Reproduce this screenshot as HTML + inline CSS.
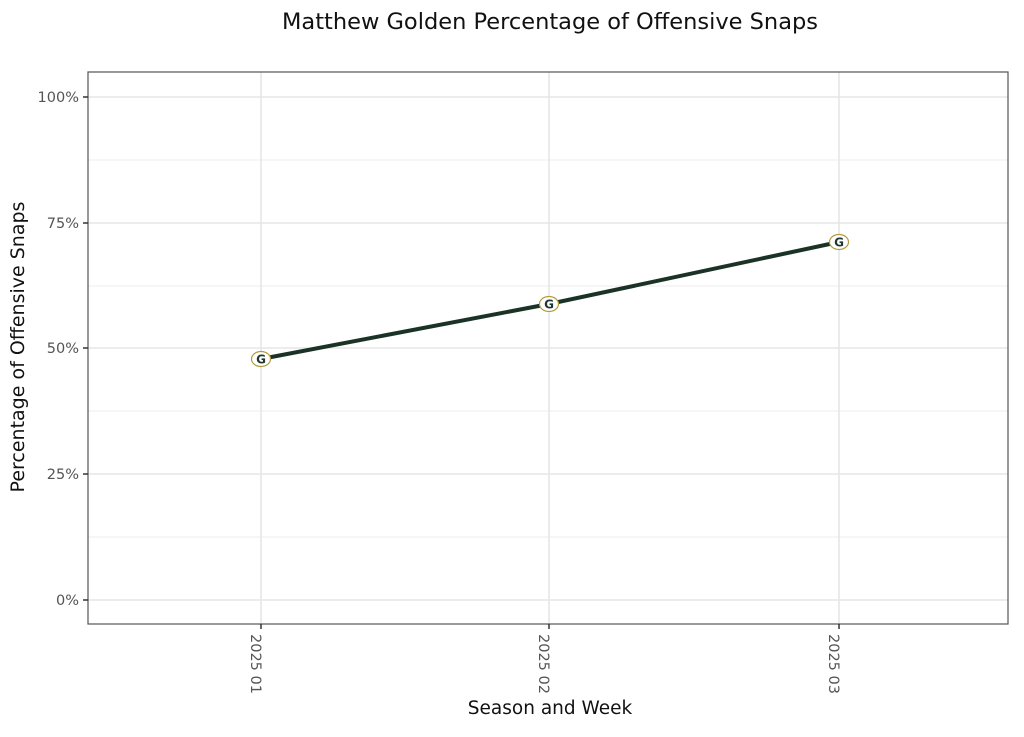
<!DOCTYPE html>
<html><head><style>body{margin:0;background:#fff}</style></head><body>
<svg width="1024" height="732" xmlns="http://www.w3.org/2000/svg" font-family="'DejaVu Sans','Liberation Sans',sans-serif">
<rect width="1024" height="732" fill="#fff"/>
<text x="550" y="29" font-size="22.5" text-anchor="middle" fill="#111">Matthew Golden Percentage of Offensive Snaps</text>
<g stroke="#ececec" stroke-width="1">
<line x1="88" x2="1008" y1="537" y2="537"/><line x1="88" x2="1008" y1="411" y2="411"/><line x1="88" x2="1008" y1="286" y2="286"/><line x1="88" x2="1008" y1="160" y2="160"/>
</g>
<g stroke="#e6e6e6" stroke-width="1.6">
<line x1="88" x2="1008" y1="600" y2="600"/><line x1="88" x2="1008" y1="474" y2="474"/><line x1="88" x2="1008" y1="348" y2="348"/><line x1="88" x2="1008" y1="223" y2="223"/><line x1="88" x2="1008" y1="97" y2="97"/>
<line x1="261" x2="261" y1="72" y2="624"/><line x1="549" x2="549" y1="72" y2="624"/><line x1="839" x2="839" y1="72" y2="624"/>
</g>
<rect x="88" y="72" width="920" height="552" fill="none" stroke="#555" stroke-width="1.2"/>
<g stroke="#333" stroke-width="1.5">
<line x1="83" x2="88" y1="600" y2="600"/><line x1="83" x2="88" y1="474" y2="474"/><line x1="83" x2="88" y1="348" y2="348"/><line x1="83" x2="88" y1="223" y2="223"/><line x1="83" x2="88" y1="97" y2="97"/>
<line x1="261" x2="261" y1="624" y2="629"/><line x1="549" x2="549" y1="624" y2="629"/><line x1="839" x2="839" y1="624" y2="629"/>
</g>
<g font-size="14.5" fill="#555" text-anchor="end">
<text x="79" y="605">0%</text><text x="79" y="479">25%</text><text x="79" y="353">50%</text><text x="79" y="228">75%</text><text x="79" y="102">100%</text>
</g>
<g font-size="14.5" fill="#555">
<text transform="translate(251,634) rotate(90)">2025 01</text>
<text transform="translate(539,634) rotate(90)">2025 02</text>
<text transform="translate(829,634) rotate(90)">2025 03</text>
</g>
<text x="550" y="714" font-size="18.5" text-anchor="middle" fill="#111">Season and Week</text>
<text transform="translate(24,347) rotate(-90)" font-size="19" text-anchor="middle" fill="#111">Percentage of Offensive Snaps</text>
<polyline points="261,359 549,304 839,242" fill="none" stroke="#1b3326" stroke-width="4"/>
<g>
<g transform="translate(261,359)"><ellipse rx="9.5" ry="7.5" fill="#fff" stroke="#b39a3a" stroke-width="1.2"/><text y="4.5" font-size="12" font-weight="bold" text-anchor="middle" fill="#203731">G</text></g>
<g transform="translate(549,304)"><ellipse rx="9.5" ry="7.5" fill="#fff" stroke="#b39a3a" stroke-width="1.2"/><text y="4.5" font-size="12" font-weight="bold" text-anchor="middle" fill="#203731">G</text></g>
<g transform="translate(839,242)"><ellipse rx="9.5" ry="7.5" fill="#fff" stroke="#b39a3a" stroke-width="1.2"/><text y="4.5" font-size="12" font-weight="bold" text-anchor="middle" fill="#203731">G</text></g>
</g>
</svg>
</body></html>
